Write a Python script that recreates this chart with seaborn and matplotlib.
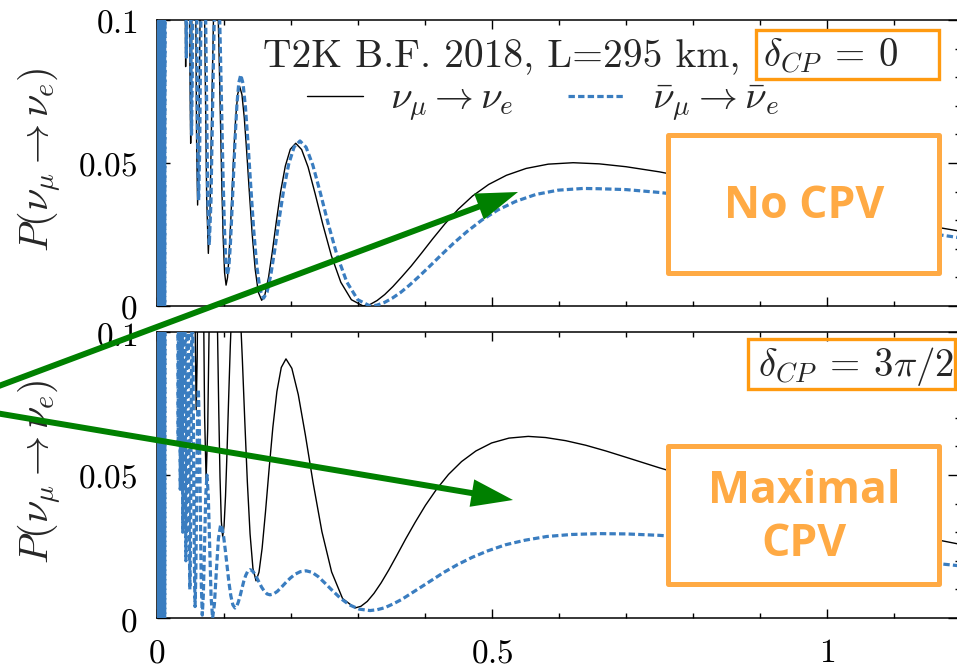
import matplotlib
matplotlib.use("Agg")
import matplotlib.pyplot as plt
import seaborn as sns
import pandas as pd
from matplotlib.lines import Line2D
from matplotlib.patches import Rectangle, FancyArrowPatch, ArrowStyle
from matplotlib.ticker import MultipleLocator, FixedLocator, FixedFormatter

# ---------------- data ----------------
band_E = [0.0005, 0.0010, 0.0015, 0.0020, 0.0025, 0.0030, 0.0035, 0.0040, 0.0045, 0.0050,
          0.0055, 0.0060, 0.0065, 0.0070, 0.0075, 0.0080, 0.0085, 0.0090, 0.0095, 0.0100,
          0.0105, 0.0110, 0.0115]
band_P = [0.0, 0.5, 0.0, 0.5, 0.0, 0.5, 0.0, 0.5, 0.0, 0.5, 0.0, 0.5, 0.0, 0.5, 0.0, 0.5,
          0.0, 0.5, 0.0, 0.5, 0.0, 0.5, 0.0]

E_nu_top = band_E + [0.013, 0.020, 0.027, 0.0331, 0.0373, 0.0400, 0.04065, 0.04132, 0.04202, 0.04274,
    0.04357, 0.04444, 0.04535, 0.04630, 0.04723, 0.04819, 0.04920, 0.05025, 0.05135, 0.05249,
    0.05369, 0.05495, 0.05626, 0.05764, 0.05908, 0.06061, 0.06221, 0.06390, 0.06568, 0.06757,
    0.06963, 0.07181, 0.07414, 0.07663, 0.07913, 0.08180, 0.08466, 0.08772, 0.08939, 0.09112,
    0.09292, 0.09479, 0.09674, 0.09877, 0.10088, 0.10309, 0.10526, 0.10753, 0.10989, 0.11236,
    0.11494, 0.11765, 0.12048, 0.12346, 0.12678, 0.13029, 0.13400, 0.13793, 0.14210, 0.14652,
    0.15123, 0.15625, 0.16119, 0.16646, 0.17208, 0.17809, 0.18454, 0.19148, 0.19895, 0.20704,
    0.21587, 0.22548, 0.23599, 0.24752, 0.26025, 0.27435, 0.29007, 0.30769,
    0.31771, 0.32841, 0.33985, 0.35211, 0.36530, 0.37951, 0.39487, 0.41152, 0.42965, 0.44944,
    0.47114, 0.49505, 0.52151, 0.55096, 0.58394, 0.62112,
    0.66, 0.70, 0.75, 0.80, 0.85, 0.90, 0.95, 1.00, 1.05, 1.10, 1.15, 1.20]
P_nu_top = band_P + [0.30, 0.22, 0.26, 0.16, 0.11, 0.27, 0.2427, 0.1769, 0.1110, 0.0837,
    0.1051, 0.1567, 0.2083, 0.23, 0.2047, 0.1435, 0.0822, 0.0569, 0.0764, 0.1235,
    0.1705, 0.19, 0.1674, 0.1127, 0.0579, 0.0353, 0.0521, 0.0927, 0.1332, 0.15,
    0.1307, 0.0842, 0.0377, 0.0184, 0.0333, 0.0692, 0.1051, 0.12, 0.1157, 0.1035,
    0.0852, 0.0637, 0.0421, 0.0238, 0.0116, 0.0073, 0.0099, 0.0175, 0.0287, 0.0420,
    0.0553, 0.0665, 0.0741, 0.0767, 0.0739, 0.0658, 0.0536, 0.0394, 0.0251, 0.0129,
    0.0048, 0.0020, 0.0041, 0.0100, 0.0189, 0.0295, 0.0400, 0.0489, 0.0548, 0.0569,
    0.0547, 0.0486, 0.0393, 0.0285, 0.0176, 0.0083, 0.0022, 0.0000,
    0.0005, 0.0019, 0.0040, 0.0068, 0.0102, 0.0140, 0.0185, 0.0235, 0.0287, 0.0338,
    0.0385, 0.0425, 0.0457, 0.0481, 0.0496, 0.0501,
    0.0497, 0.0487, 0.0469, 0.0446, 0.0421, 0.0396, 0.0370, 0.0346, 0.0323, 0.0302, 0.0281, 0.0261]

E_nubar_top = band_E + [0.013, 0.020, 0.028, 0.034, 0.0382, 0.04082, 0.04154, 0.04228, 0.04306, 0.04386,
    0.04469, 0.04556, 0.04646, 0.04739, 0.04837, 0.04938, 0.05044, 0.05155, 0.05263, 0.05376,
    0.05495, 0.05618, 0.05755, 0.05900, 0.06051, 0.06211, 0.06369, 0.06536, 0.06711, 0.06897,
    0.07102, 0.07321, 0.07553, 0.07800, 0.08055, 0.08326, 0.08617, 0.08929, 0.09099, 0.09276,
    0.09461, 0.09653, 0.09852, 0.10060, 0.10277, 0.10504, 0.10718, 0.10941, 0.11173, 0.11416,
    0.11669, 0.11933, 0.12210, 0.12500, 0.12843, 0.13206, 0.13589, 0.13996, 0.14427, 0.14886,
    0.15376, 0.15898, 0.16422, 0.16981, 0.17579, 0.18222, 0.18913, 0.19658, 0.20465, 0.21340,
    0.22255, 0.23252, 0.24342, 0.25539, 0.26861, 0.28326, 0.29962, 0.31797,
    0.32822, 0.33917, 0.35087, 0.36340, 0.37687, 0.39137, 0.40703, 0.42400, 0.44244, 0.46256,
    0.48460, 0.50883, 0.53565, 0.56542, 0.59869, 0.63613,
    0.66, 0.70, 0.75, 0.80, 0.85, 0.90, 0.95, 1.00, 1.05, 1.10, 1.15, 1.20]
P_nubar_top = band_P + [0.30, 0.22, 0.25, 0.17, 0.115, 0.27, 0.2432, 0.1785, 0.1138, 0.087,
    0.1079, 0.1585, 0.2091, 0.23, 0.2051, 0.145, 0.0849, 0.06, 0.079, 0.125,
    0.171, 0.19, 0.1676, 0.1135, 0.0594, 0.037, 0.0543, 0.096, 0.1377, 0.155,
    0.1354, 0.0882, 0.0409, 0.0213, 0.0365, 0.0732, 0.1098, 0.125, 0.1206, 0.1083,
    0.0897, 0.0679, 0.0461, 0.0275, 0.0152, 0.0108, 0.0135, 0.0210, 0.0324, 0.0458,
    0.0592, 0.0706, 0.0781, 0.0808, 0.0778, 0.0694, 0.0568, 0.0418, 0.0268, 0.0141,
    0.0057, 0.0027, 0.0048, 0.0108, 0.0197, 0.0302, 0.0407, 0.0496, 0.0556, 0.0577,
    0.0555, 0.0493, 0.0399, 0.0289, 0.0178, 0.0084, 0.0022, 0.0000,
    0.0003, 0.0012, 0.0027, 0.0047, 0.0073, 0.0104, 0.0139, 0.0178, 0.0219, 0.0260,
    0.0300, 0.0336, 0.0366, 0.0390, 0.0405, 0.0411,
    0.0410, 0.0407, 0.0397, 0.0383, 0.0367, 0.0349, 0.0330, 0.0311, 0.0292, 0.0273, 0.0255, 0.0238]

E_nu_bot = band_E + [0.013, 0.020, 0.028, 0.035, 0.039, 0.0418, 0.045, 0.04878, 0.04981, 0.05089,
    0.05202, 0.05319, 0.05443, 0.05572, 0.05708, 0.05850, 0.06001, 0.06161, 0.06329, 0.06506,
    0.06694, 0.06893, 0.07105, 0.07330, 0.07569, 0.07823, 0.08097, 0.08389, 0.08543, 0.08702,
    0.08868, 0.09040, 0.09219, 0.09405, 0.09598, 0.09800, 0.10009, 0.10227, 0.10455, 0.10693,
    0.10942, 0.11203, 0.11477, 0.11765, 0.12073, 0.12397, 0.12739, 0.13101, 0.13484, 0.13890,
    0.14321, 0.14780, 0.15222, 0.15690, 0.16189, 0.16721, 0.17289, 0.17896, 0.18548, 0.19249,
    0.20126, 0.21087, 0.22144, 0.23313, 0.24612, 0.26063, 0.27698, 0.29551,
    0.30439, 0.31381, 0.32384, 0.33453, 0.34595, 0.35818, 0.37131, 0.38543, 0.40067, 0.41717,
    0.43508, 0.45459, 0.47594, 0.49940, 0.52529, 0.55402,
    0.58, 0.61, 0.64, 0.67, 0.70, 0.75, 0.80, 0.85, 0.90, 0.95, 1.00, 1.05, 1.10, 1.15, 1.20]
P_nu_bot = band_P + [0.40, 0.30, 0.35, 0.20, 0.35, 0.14, 0.30, 0.105, 0.1262, 0.1775,
    0.2288, 0.25, 0.2241, 0.1614, 0.0987, 0.0728, 0.0914, 0.1364, 0.1814, 0.2,
    0.1778, 0.1242, 0.0706, 0.0484, 0.0662, 0.1092, 0.1522, 0.17, 0.1646, 0.1493,
    0.1263, 0.0993, 0.0723, 0.0492, 0.0339, 0.0285, 0.0322, 0.0426, 0.0583, 0.0768,
    0.0952, 0.1109, 0.1213, 0.125, 0.1207, 0.1086, 0.0904, 0.069, 0.0476, 0.0294,
    0.0173, 0.013, 0.0160, 0.0244, 0.0370, 0.0518, 0.0666, 0.0792, 0.0876, 0.0906,
    0.0873, 0.0781, 0.0640, 0.0471, 0.0302, 0.0161, 0.0068, 0.0035,
    0.0041, 0.0058, 0.0086, 0.0123, 0.0168, 0.0220, 0.0277, 0.0335, 0.0394, 0.0450,
    0.0502, 0.0547, 0.0584, 0.0612, 0.0629, 0.0635,
    0.0631, 0.0620, 0.0604, 0.0584, 0.0562, 0.0525, 0.0490, 0.0455, 0.0421, 0.0390, 0.0360,
    0.0331, 0.0304, 0.0280, 0.0257]

E_nubar_bot = band_E + [0.013, 0.020, 0.026, 0.0303, 0.03063, 0.03096, 0.03130, 0.03165, 0.03200, 0.03236,
    0.03273, 0.03311, 0.03350, 0.03390, 0.03431, 0.03472, 0.03515, 0.03559, 0.03604, 0.03650,
    0.03697, 0.03745, 0.03795, 0.03846, 0.03899, 0.03953, 0.04008, 0.04065, 0.04124, 0.04184,
    0.04246, 0.04310, 0.04376, 0.04444, 0.04515, 0.04587, 0.04662, 0.04739, 0.04819, 0.04902,
    0.04988, 0.05076, 0.05168, 0.05263, 0.05362, 0.05464, 0.05571, 0.05682, 0.05797, 0.05917,
    0.06042, 0.06173, 0.06309, 0.06452, 0.06601, 0.06757, 0.06920, 0.07092, 0.07273, 0.07463,
    0.07656, 0.07859, 0.08073, 0.08299, 0.08569, 0.08857, 0.09166, 0.09497, 0.09720, 0.09955,
    0.10201, 0.10460, 0.10732, 0.11018, 0.11321, 0.11640, 0.11880, 0.12129, 0.12390, 0.12662,
    0.12945, 0.13242, 0.13553, 0.13879, 0.14194, 0.14523, 0.14867, 0.15229, 0.15608, 0.16007,
    0.16427, 0.16869, 0.17394, 0.17953, 0.18549, 0.19186, 0.19869, 0.20602, 0.21390, 0.22242,
    0.23110, 0.24049, 0.25066, 0.26174, 0.27385, 0.28712, 0.30176, 0.31797,
    0.32861, 0.33999, 0.35219, 0.36530, 0.37942, 0.39467, 0.41120, 0.42918, 0.44881, 0.47031,
    0.49397, 0.52016, 0.54927, 0.58182, 0.61847, 0.66007,
    0.70, 0.75, 0.80, 0.85, 0.90, 0.95, 1.00, 1.05, 1.10, 1.15, 1.20]
P_nubar_bot = band_P + [0.35, 0.28, 0.32, 0.30, 0.2649, 0.18, 0.0951, 0.06, 0.0951, 0.18,
    0.2649, 0.3, 0.2627, 0.1725, 0.0823, 0.045, 0.075, 0.1475, 0.22, 0.25,
    0.2178, 0.14, 0.0622, 0.03, 0.0549, 0.115, 0.1751, 0.2, 0.1736, 0.11,
    0.0464, 0.02, 0.039, 0.085, 0.131, 0.15, 0.1295, 0.08, 0.0305, 0.01,
    0.0246, 0.06, 0.0954, 0.11, 0.0945, 0.057, 0.0195, 0.004, 0.0151, 0.042,
    0.0689, 0.08, 0.0684, 0.0405, 0.0126, 0.001, 0.0082, 0.0255, 0.0428, 0.05,
    0.0427, 0.025, 0.0073, 0.0, 0.0048, 0.0163, 0.0278, 0.0326, 0.0315, 0.0283,
    0.0236, 0.0181, 0.0125, 0.0078, 0.0046, 0.0035, 0.0040, 0.0055, 0.0076, 0.0102,
    0.0128, 0.0149, 0.0164, 0.0169, 0.0166, 0.0156, 0.0142, 0.0125, 0.0108, 0.0094,
    0.0084, 0.0081, 0.0084, 0.0093, 0.0107, 0.0123, 0.0139, 0.0153, 0.0162, 0.0165,
    0.0160, 0.0145, 0.0122, 0.0096, 0.0069, 0.0046, 0.0031, 0.0026,
    0.0029, 0.0036, 0.0049, 0.0065, 0.0086, 0.0109, 0.0134, 0.0161, 0.0187, 0.0212,
    0.0235, 0.0256, 0.0272, 0.0285, 0.0292, 0.0295,
    0.0294, 0.0289, 0.0280, 0.0270, 0.0258, 0.0245, 0.0232, 0.0219, 0.0206, 0.0194, 0.0182]

x_ticks = [0, 0.5, 1]
x_tick_labels = ["$0$", "$0.5$", "$1$"]
y_ticks = [0, 0.05, 0.1]
y_tick_labels = ["$0$", "$0.05$", "$0.1$"]
panel_labels = [r"$\delta_{CP}\:=\:0$", r"$\delta_{CP}\:=\:3\pi/2$"]
legend_labels = [r"$\nu_\mu \rightarrow \nu_e$", r"$\bar{\nu}_\mu \rightarrow \bar{\nu}_e$"]
ylabel = r"$P(\nu_\mu \rightarrow \nu_e)$"
title_text = "T2K B.F. 2018, L=295 km,"
box_texts = ["No CPV", "Maximal", "CPV"]

for a, b in [(E_nu_top, P_nu_top), (E_nubar_top, P_nubar_top),
             (E_nu_bot, P_nu_bot), (E_nubar_bot, P_nubar_bot)]:
    assert len(a) == len(b), (len(a), len(b))

# ---------------- style ----------------
sns.set_style("ticks")
plt.rcParams["mathtext.fontset"] = "cm"
plt.rcParams["font.family"] = ["DejaVu Sans"]

BLUE = "#3a7dc0"
ORANGE_BOX = "#FFAA44"
ORANGE_TAG = "#FF9A10"
GREEN = "#008000"
DOT = (0, (2.0, 1.0))

W, H = 957, 670
fig = plt.figure(figsize=(W / 100, H / 100), dpi=100)


def rect_px(left, top, width, height):
    return [left / W, 1 - (top + height) / H, width / W, height / H]


def fpx(x, y):
    return (x / W, 1 - y / H)


ax1 = fig.add_axes(rect_px(157, 20, 804, 286))
ax2 = fig.add_axes(rect_px(157, 332, 804, 286))

series = [
    (ax1, E_nu_top, P_nu_top, E_nubar_top, P_nubar_top),
    (ax2, E_nu_bot, P_nu_bot, E_nubar_bot, P_nubar_bot),
]
for ax, e1, p1, e2, p2 in series:
    ax.set_facecolor("none")
    d1 = pd.DataFrame({"E": e1, "P": p1})
    d2 = pd.DataFrame({"E": e2, "P": p2})
    sns.lineplot(data=d1, x="E", y="P", ax=ax, color="black", lw=1.0,
                 estimator=None, sort=False, zorder=2)
    sns.lineplot(data=d2, x="E", y="P", ax=ax, color=BLUE, lw=2.3, linestyle=DOT,
                 estimator=None, sort=False, zorder=3)
    ax.set_xlim(0, 1.2)
    ax.set_ylim(0, 0.1)
    ax.xaxis.set_major_locator(FixedLocator(x_ticks))
    ax.xaxis.set_major_formatter(FixedFormatter(x_tick_labels))
    ax.xaxis.set_minor_locator(MultipleLocator(0.1))
    ax.yaxis.set_major_locator(FixedLocator(y_ticks))
    ax.yaxis.set_major_formatter(FixedFormatter(y_tick_labels))
    ax.yaxis.set_minor_locator(MultipleLocator(0.01))
    ax.tick_params(which="both", direction="in", top=True, right=True,
                   width=1.0, colors="black", labelsize=24)
    ax.tick_params(axis="x", which="major", length=6.5, pad=13)
    ax.tick_params(axis="x", which="minor", length=3.5)
    ax.tick_params(axis="y", which="major", length=9.5, pad=14)
    ax.tick_params(axis="y", which="minor", length=4.5)
    for s in ax.spines.values():
        s.set_visible(True)
        s.set_linewidth(1.1)
        s.set_color("black")
    ax.set_xlabel("")
    ax.set_ylabel(ylabel, fontsize=29, va="center")
    ax.yaxis.set_label_coords(-0.146, 0.51)

ax1.tick_params(axis="x", labelbottom=False)

# title and legend (top panel)
ax1.text((263 - 157) / 804, (306 - 67) / 286, title_text, transform=ax1.transAxes,
         fontsize=28.5, family="cmr10", ha="left", va="baseline")
handles = [Line2D([], [], color="black", lw=1.0),
           Line2D([], [], color=BLUE, lw=2.3, linestyle=DOT)]
ax1.legend(handles, legend_labels, ncol=2, frameon=False, fontsize=28,
           loc="center", bbox_to_anchor=((543 - 157) / 804, (306 - 102) / 286),
           handlelength=1.45, handletextpad=0.7, columnspacing=1.4, borderpad=0)

# delta_CP tags
tag_specs = [
    (ax1, 756, 939, 30, 79, 763, 67, 306),
    (ax2, 748, 955, 339, 389, 758, 376, 618),
]
for (ax, x0, x1, y0, y1, tx, ty, ybase), lab in zip(tag_specs, panel_labels):
    ax.add_patch(Rectangle(((x0 - 157) / 804, (ybase - y1) / 286), (x1 - x0) / 804,
                           (y1 - y0) / 286, transform=ax.transAxes, fill=False,
                           edgecolor=ORANGE_TAG, lw=2.4, clip_on=False, zorder=5))
    ax.text((tx - 157) / 804, (ybase - ty) / 286, lab, transform=ax.transAxes,
            fontsize=28, ha="left", va="baseline", zorder=6)

# annotation boxes
for top, bottom in [(135.5, 272.5), (445.5, 583.5)]:
    x0, y0 = fpx(667.5, bottom)
    x1, y1 = fpx(938.5, top)
    fig.add_artist(Rectangle((x0, y0), x1 - x0, y1 - y0, transform=fig.transFigure,
                             facecolor="white", edgecolor=ORANGE_BOX, lw=3.6,
                             joinstyle="round", zorder=5))
for txt, ybl in zip(box_texts, [218, 503, 556]):
    fig.text(*fpx(804, ybl), txt, ha="center", va="baseline", fontsize=32,
             family="Open Sans", weight="bold", color=ORANGE_BOX, zorder=6)

# green arrows
style = ArrowStyle("simple", head_length=30, head_width=20, tail_width=4.3)
for tip in [(518, 192), (513, 500)]:
    fig.add_artist(FancyArrowPatch(fpx(-52, 405), fpx(*tip), transform=fig.transFigure,
                                   arrowstyle=style, mutation_scale=1, color=GREEN,
                                   lw=0, shrinkA=0, shrinkB=0, zorder=7))

fig.savefig("out.png", dpi=100)
